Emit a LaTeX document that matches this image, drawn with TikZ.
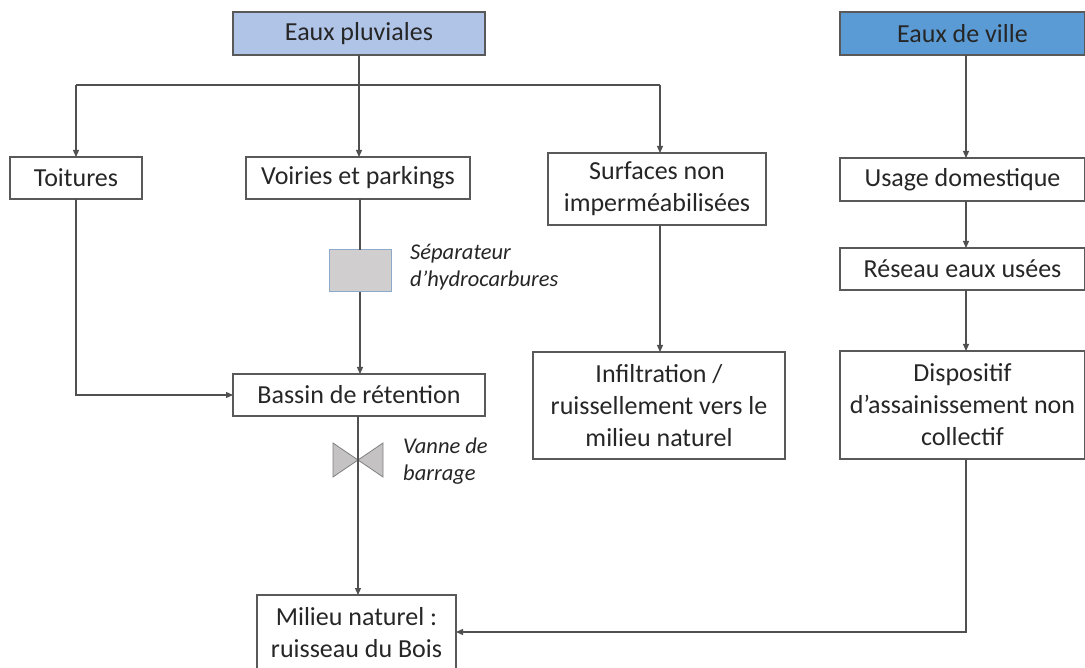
\documentclass[tikz,border=0pt]{standalone}
\usepackage{fontspec}
\setmainfont{Carlito}
\usetikzlibrary{arrows.meta}
\definecolor{lightblu}{HTML}{B0C4E8}
\definecolor{midblu}{HTML}{5B9BD5}
\definecolor{sepgray}{HTML}{D0CECE}
\definecolor{sepedge}{HTML}{8FAAC8}
\definecolor{edgec}{HTML}{595959}
\definecolor{linec}{HTML}{505050}
\definecolor{txtc}{HTML}{262626}
\begin{document}
\begin{tikzpicture}[x=1pt,y=-1pt,
  box/.style={draw=edgec,line width=1.2pt,fill=white,inner sep=0pt,outer sep=0pt,align=center,text=txtc,font=\fontsize{26}{32}\selectfont},
  conn/.style={draw=linec,line width=1.2pt,-{Triangle[length=7pt,width=6pt]}},
  plain/.style={draw=linec,line width=1.2pt},
  lbl/.style={font=\fontsize{22.5}{27}\itshape\selectfont,text=txtc,align=left,anchor=north west,inner sep=0pt}]
\useasboundingbox (0,0) rectangle (1085,668);
\fill[white] (0,0) rectangle (1085,668);
% boxes
\node[box,fill=lightblu,minimum width=252pt,minimum height=43pt] (ep) at (359,33.5) {Eaux pluviales};
\node[box,fill=midblu,minimum width=245pt,minimum height=43pt] (ev) at (962.5,33.5) {Eaux de ville};
\node[box,minimum width=132pt,minimum height=42pt] (toit) at (76,178) {Toitures};
\node[box,minimum width=224pt,minimum height=42pt] (voir) at (358,178) {Voiries et parkings};
\node[box,minimum width=218pt,minimum height=72pt] (surf) at (657,189) {Surfaces non\\imperméabilisées};
\node[box,minimum width=245pt,minimum height=43pt] (usage) at (962.5,179.5) {Usage domestique};
\node[box,minimum width=245pt,minimum height=42pt] (res) at (962.5,269) {Réseau eaux usées};
\node[box,minimum width=245pt,minimum height=108pt] (disp) at (962.5,405) {Dispositif\\d’assainissement non\\collectif};
\node[box,minimum width=252pt,minimum height=107pt] (inf) at (659,405.5) {Infiltration /\\ruissellement vers le\\milieu naturel};
\node[box,minimum width=252pt,minimum height=42pt] (bass) at (359,395) {Bassin de rétention};
\node[box,minimum width=199pt,minimum height=76pt,anchor=north] (mil) at (356.5,595) {Milieu naturel :\\ruisseau du Bois};
% separator
\node[draw=sepedge,fill=sepgray,line width=1pt,minimum width=62pt,minimum height=42pt,inner sep=0pt,outer sep=0pt] (sep) at (360,271) {};
\node[lbl] (seplbl) at (410,244) {Séparateur\\d’hydrocarbures};
% valve
\coordinate (vc) at (358,460);
\fill[sepgray!85!gray,draw=gray,line width=0.8pt] (333,443) -- (vc) -- (333,477) -- cycle;
\fill[sepgray!85!gray,draw=gray,line width=0.8pt] (383,443) -- (vc) -- (383,477) -- cycle;
\node[lbl] (vlbl) at (403,438) {Vanne de\\barrage};
% connectors
\coordinate (j) at (359,85);
\coordinate (jl) at (76,85);
\coordinate (jr) at (660,85);
\draw[plain] (ep.south) -- (j);
\draw[plain] (jl) -- (jr);
\draw[conn] (jl) -- (toit.north);
\draw[conn] (j) -- (voir.north -| j);
\draw[conn] (jr) -- (surf.north -| jr);
\coordinate (tb) at (76,395);
\draw[conn] (toit.south) -- (tb) -- (bass.west);
\draw[plain] (voir.south -| sep.north) -- (sep.north);
\draw[conn] (sep.south) -- (bass.north -| sep.south);
\draw[plain] (bass.south -| vc) -- (vc);
\draw[conn] (vc) -- (mil.north -| vc);
\draw[conn] (surf.south -| jr) -- (inf.north -| jr);
\coordinate (ex) at (966,0);
\draw[conn] (ev.south -| ex) -- (usage.north -| ex);
\draw[conn] (usage.south -| ex) -- (res.north -| ex);
\draw[conn] (res.south -| ex) -- (disp.north -| ex);
\coordinate (db) at (966,632);
\draw[conn] (disp.south -| ex) -- (db) -- (mil.east |- db);
\end{tikzpicture}
\end{document}
